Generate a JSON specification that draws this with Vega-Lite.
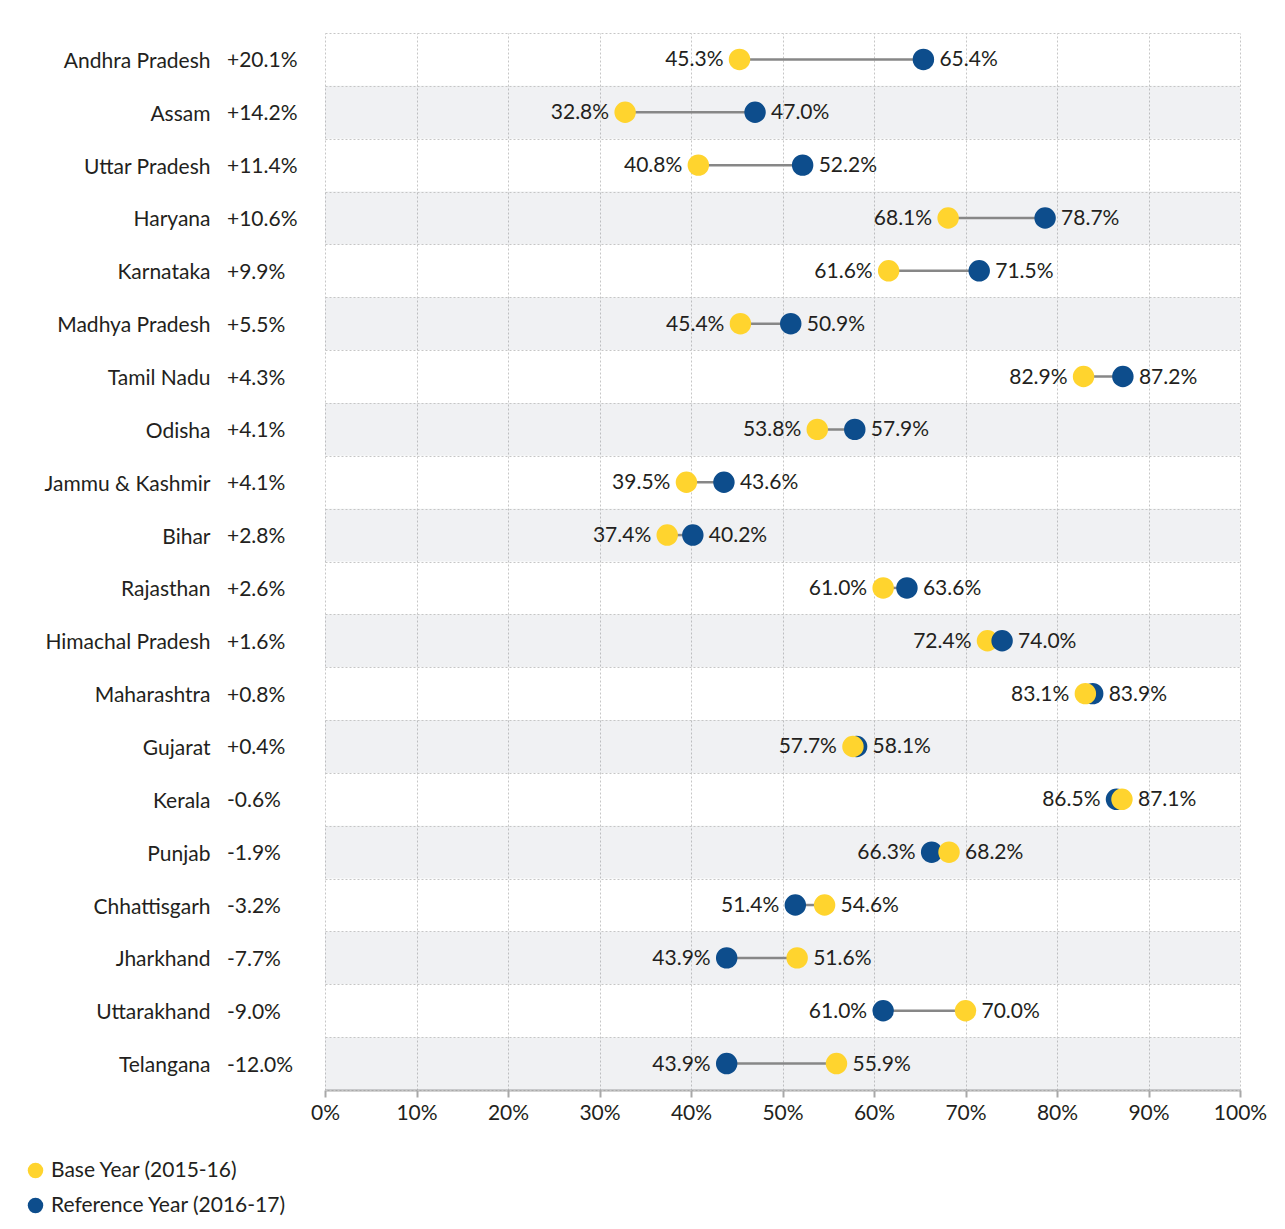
{
  "$schema": "https://vega.github.io/schema/vega-lite/v6.json",
  "width": 915,
  "height": 1057,
  "autosize": "none",
  "padding": {"left": 325, "top": 33, "right": 45, "bottom": 139},
  "background": "white",
  "config": {
    "font": "Lato",
    "view": {"stroke": null},
    "axis": {"labelFont": "Lato", "labelFontSize": 21, "labelColor": "#231f20", "titleFont": "Lato"},
    "legend": {"labelFont": "Lato"}
  },
  "datasets": {
    "states": [
      {"state": "Andhra Pradesh", "change": "+20.1%"},
      {"state": "Assam", "change": "+14.2%"},
      {"state": "Uttar Pradesh", "change": "+11.4%"},
      {"state": "Haryana", "change": "+10.6%"},
      {"state": "Karnataka", "change": "+9.9%"},
      {"state": "Madhya Pradesh", "change": "+5.5%"},
      {"state": "Tamil Nadu", "change": "+4.3%"},
      {"state": "Odisha", "change": "+4.1%"},
      {"state": "Jammu & Kashmir", "change": "+4.1%"},
      {"state": "Bihar", "change": "+2.8%"},
      {"state": "Rajasthan", "change": "+2.6%"},
      {"state": "Himachal Pradesh", "change": "+1.6%"},
      {"state": "Maharashtra", "change": "+0.8%"},
      {"state": "Gujarat", "change": "+0.4%"},
      {"state": "Kerala", "change": "-0.6%"},
      {"state": "Punjab", "change": "-1.9%"},
      {"state": "Chhattisgarh", "change": "-3.2%"},
      {"state": "Jharkhand", "change": "-7.7%"},
      {"state": "Uttarakhand", "change": "-9.0%"},
      {"state": "Telangana", "change": "-12.0%"}
    ],
    "points": [
      {"state": "Andhra Pradesh", "year": "Base Year (2015-16)", "value": 0.453},
      {"state": "Andhra Pradesh", "year": "Reference Year (2016-17)", "value": 0.654},
      {"state": "Assam", "year": "Base Year (2015-16)", "value": 0.328},
      {"state": "Assam", "year": "Reference Year (2016-17)", "value": 0.470},
      {"state": "Uttar Pradesh", "year": "Base Year (2015-16)", "value": 0.408},
      {"state": "Uttar Pradesh", "year": "Reference Year (2016-17)", "value": 0.522},
      {"state": "Haryana", "year": "Base Year (2015-16)", "value": 0.681},
      {"state": "Haryana", "year": "Reference Year (2016-17)", "value": 0.787},
      {"state": "Karnataka", "year": "Base Year (2015-16)", "value": 0.616},
      {"state": "Karnataka", "year": "Reference Year (2016-17)", "value": 0.715},
      {"state": "Madhya Pradesh", "year": "Base Year (2015-16)", "value": 0.454},
      {"state": "Madhya Pradesh", "year": "Reference Year (2016-17)", "value": 0.509},
      {"state": "Tamil Nadu", "year": "Base Year (2015-16)", "value": 0.829},
      {"state": "Tamil Nadu", "year": "Reference Year (2016-17)", "value": 0.872},
      {"state": "Odisha", "year": "Base Year (2015-16)", "value": 0.538},
      {"state": "Odisha", "year": "Reference Year (2016-17)", "value": 0.579},
      {"state": "Jammu & Kashmir", "year": "Base Year (2015-16)", "value": 0.395},
      {"state": "Jammu & Kashmir", "year": "Reference Year (2016-17)", "value": 0.436},
      {"state": "Bihar", "year": "Base Year (2015-16)", "value": 0.374},
      {"state": "Bihar", "year": "Reference Year (2016-17)", "value": 0.402},
      {"state": "Rajasthan", "year": "Base Year (2015-16)", "value": 0.610},
      {"state": "Rajasthan", "year": "Reference Year (2016-17)", "value": 0.636},
      {"state": "Himachal Pradesh", "year": "Base Year (2015-16)", "value": 0.724},
      {"state": "Himachal Pradesh", "year": "Reference Year (2016-17)", "value": 0.740},
      {"state": "Maharashtra", "year": "Reference Year (2016-17)", "value": 0.839},
      {"state": "Maharashtra", "year": "Base Year (2015-16)", "value": 0.831},
      {"state": "Gujarat", "year": "Reference Year (2016-17)", "value": 0.581},
      {"state": "Gujarat", "year": "Base Year (2015-16)", "value": 0.577},
      {"state": "Kerala", "year": "Reference Year (2016-17)", "value": 0.865},
      {"state": "Kerala", "year": "Base Year (2015-16)", "value": 0.871},
      {"state": "Punjab", "year": "Reference Year (2016-17)", "value": 0.663},
      {"state": "Punjab", "year": "Base Year (2015-16)", "value": 0.682},
      {"state": "Chhattisgarh", "year": "Reference Year (2016-17)", "value": 0.514},
      {"state": "Chhattisgarh", "year": "Base Year (2015-16)", "value": 0.546},
      {"state": "Jharkhand", "year": "Reference Year (2016-17)", "value": 0.439},
      {"state": "Jharkhand", "year": "Base Year (2015-16)", "value": 0.516},
      {"state": "Uttarakhand", "year": "Reference Year (2016-17)", "value": 0.610},
      {"state": "Uttarakhand", "year": "Base Year (2015-16)", "value": 0.700},
      {"state": "Telangana", "year": "Reference Year (2016-17)", "value": 0.439},
      {"state": "Telangana", "year": "Base Year (2015-16)", "value": 0.559}
    ]
  },
  "encoding": {
    "y": {
      "field": "state",
      "type": "nominal",
      "scale": {
        "domain": ["Andhra Pradesh", "Assam", "Uttar Pradesh", "Haryana", "Karnataka", "Madhya Pradesh", "Tamil Nadu", "Odisha", "Jammu & Kashmir", "Bihar", "Rajasthan", "Himachal Pradesh", "Maharashtra", "Gujarat", "Kerala", "Punjab", "Chhattisgarh", "Jharkhand", "Uttarakhand", "Telangana"],
        "paddingInner": 0,
        "paddingOuter": 0
      },
      "axis": {
        "title": null,
        "domain": false,
        "ticks": false,
        "tickBand": "extent",
        "labelPadding": 115,
        "labelOffset": 2,
        "labelLimit": 0,
        "grid": true,
        "gridColor": "#c6c6c6",
        "gridDash": [2, 2],
        "gridWidth": 1
      }
    }
  },
  "layer": [
    {
      "data": {"name": "states"},
      "transform": [
        {"window": [{"op": "row_number", "as": "rn"}]},
        {"filter": "datum.rn % 2 == 0"}
      ],
      "mark": {"type": "rect", "fill": "#697387", "opacity": 0.1},
      "encoding": {
        "x": {"datum": 0, "type": "quantitative"},
        "x2": {"datum": 1}
      }
    },
    {
      "data": {"name": "states"},
      "mark": {"type": "text", "align": "left", "baseline": "middle", "dx": -98, "dy": 2, "fontSize": 21, "color": "#231f20", "font": "Lato"},
      "encoding": {
        "x": {"datum": 0, "type": "quantitative"},
        "text": {"field": "change"}
      }
    },
    {
      "data": {"name": "points"},
      "mark": {"type": "rule", "color": "#878787", "strokeWidth": 2.5},
      "encoding": {
        "x": {"aggregate": "min", "field": "value", "type": "quantitative"},
        "x2": {"aggregate": "max", "field": "value"}
      }
    },
    {
      "data": {"name": "points"},
      "mark": {"type": "point", "filled": true, "opacity": 1, "shape": "circle", "size": 460},
      "encoding": {
        "x": {
          "field": "value",
          "type": "quantitative",
          "scale": {"domain": [0, 1], "nice": false, "zero": true},
          "axis": {
            "title": null,
            "format": ".0%",
            "values": [0, 0.1, 0.2, 0.3, 0.4, 0.5, 0.6, 0.7, 0.8, 0.9, 1],
            "domainColor": "#a8a8a8",
            "domainWidth": 2,
            "tickColor": "#a8a8a8",
            "tickWidth": 2,
            "tickSize": 7,
            "labelPadding": 5,
            "labelFlush": false,
            "grid": true,
            "gridColor": "#c6c6c6",
            "gridDash": [2, 2],
            "gridWidth": 1
          }
        },
        "color": {
          "field": "year",
          "type": "nominal",
          "scale": {"domain": ["Base Year (2015-16)", "Reference Year (2016-17)"], "range": ["#FFD42E", "#0D4D8C"]},
          "legend": {
            "title": null,
            "orient": "none",
            "legendX": -300,
            "legendY": 1127,
            "symbolType": "circle",
            "symbolSize": 240,
            "symbolStrokeWidth": 0,
            "labelFontSize": 21,
            "labelColor": "#231f20",
            "labelOffset": 5,
            "labelLimit": 0,
            "rowPadding": 13
          }
        }
      }
    },
    {
      "data": {"name": "points"},
      "transform": [
        {"joinaggregate": [{"op": "min", "field": "value", "as": "lo"}, {"op": "max", "field": "value", "as": "hi"}], "groupby": ["state"]},
        {"filter": "datum.value == datum.lo"}
      ],
      "mark": {"type": "text", "align": "right", "baseline": "middle", "dx": -16, "dy": 1, "fontSize": 21, "color": "#231f20", "font": "Lato"},
      "encoding": {
        "x": {"field": "value", "type": "quantitative"},
        "text": {"field": "value", "format": ".1%"}
      }
    },
    {
      "data": {"name": "points"},
      "transform": [
        {"joinaggregate": [{"op": "min", "field": "value", "as": "lo"}, {"op": "max", "field": "value", "as": "hi"}], "groupby": ["state"]},
        {"filter": "datum.value == datum.hi"}
      ],
      "mark": {"type": "text", "align": "left", "baseline": "middle", "dx": 16, "dy": 1, "fontSize": 21, "color": "#231f20", "font": "Lato"},
      "encoding": {
        "x": {"field": "value", "type": "quantitative"},
        "text": {"field": "value", "format": ".1%"}
      }
    }
  ]
}
